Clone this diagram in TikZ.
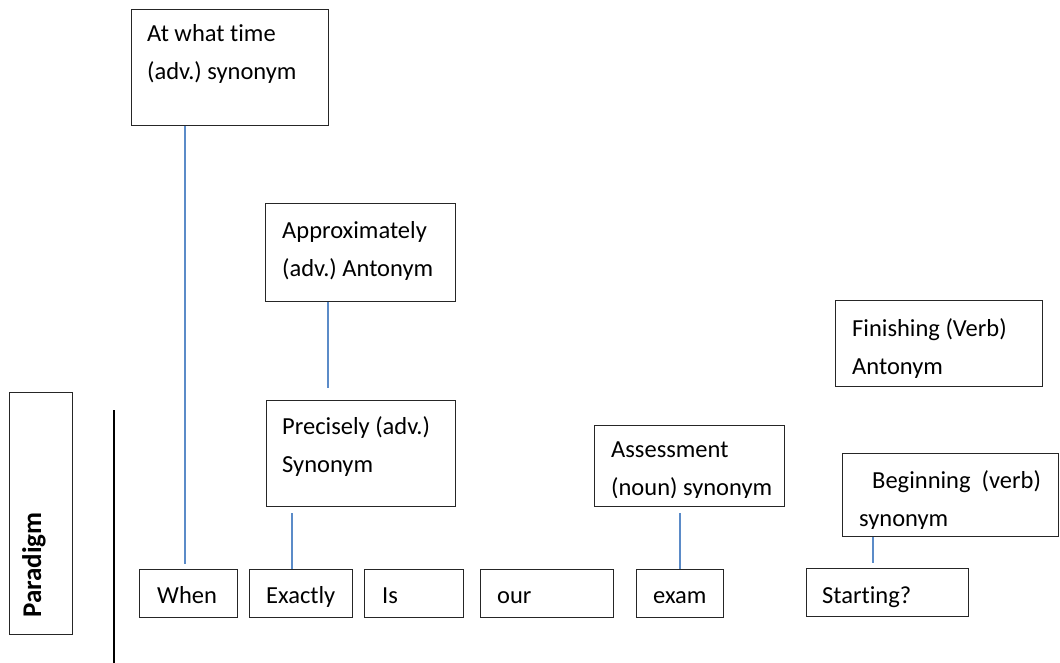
\documentclass[tikz,border=0pt]{standalone}
\usepackage{fontspec}
\setmainfont{Carlito}[Ligatures={NoCommon,NoContextual}]
\usetikzlibrary{calc}
\definecolor{linkblue}{HTML}{5B8BC8}
\begin{document}
\frenchspacing
\begin{tikzpicture}[x=1pt,y=-1pt,
  wbox/.style={draw=black!85, line width=1pt, inner sep=0pt, anchor=north west},
  txt/.style={inner sep=0pt, anchor=base west, align=left, font=\fontsize{24.5}{38}\selectfont},
  link/.style={draw=linkblue, line width=1.2pt},
  rule/.style={draw=black, line width=1.2pt}]
\useasboundingbox[fill=white] (0,0) rectangle (1060,663);

% boxes
\node[wbox, minimum width=197pt, minimum height=116pt] (ta) at (131,9) {};
\node[wbox, minimum width=190pt, minimum height=98pt] (tb) at (265,203) {};
\node[wbox, minimum width=189pt, minimum height=106pt] (tc) at (266,400) {};
\node[wbox, minimum width=207pt, minimum height=86pt] (td) at (835,300) {};
\node[wbox, minimum width=190pt, minimum height=81pt] (te) at (594,425) {};
\node[wbox, minimum width=216pt, minimum height=83pt] (tf) at (842,453) {};
\node[wbox, minimum width=98pt, minimum height=48pt] (when) at (139,569) {};
\node[wbox, minimum width=103pt, minimum height=48pt] (exactly) at (249,569) {};
\node[wbox, minimum width=99pt, minimum height=48pt] (is) at (364,569) {};
\node[wbox, minimum width=133pt, minimum height=48pt] (our) at (480,569) {};
\node[wbox, minimum width=87pt, minimum height=48pt] (exam) at (636,569) {};
\node[wbox, minimum width=162pt, minimum height=48pt] (starting) at (806,568) {};
\node[wbox, minimum width=63pt, minimum height=242pt] (para) at (9,392) {};

% texts (anchored at the baseline of the last line)
\node[txt] (ta-t) at (147,80) {At what time\\(adv.) synonym};
\node[txt] (tb-t) at (282,276) {Approximately\\(adv.) Antonym};
\node[txt] (tc-t) at (282,472) {Precisely (adv.)\\Synonym};
\node[txt] (td-t) at (852,374) {Finishing (Verb)\\Antonym};
\begin{scope}
  \clip (594,425) rectangle (784,497);
  \node[txt] (te-t) at (611,495) {Assessment\\(noun) synonym};
\end{scope}
\begin{scope}
  \clip (842,453) rectangle (1058,528);
  \node[txt] (tf-t) at (859,526) {\hspace*{13pt}Beginning\ \ (verb)\\synonym};
\end{scope}
\node[txt] (when-t) at (157,603) {When};
\node[txt] (exactly-t) at (266,603) {Exactly};
\node[txt] (is-t) at (382,603) {Is};
\node[txt] (our-t) at (497,603) {our};
\node[txt] (exam-t) at (653,603) {exam};
\node[txt] (starting-t) at (822,603) {Starting?};
\node[inner sep=0pt, rotate=90, font=\fontsize{27}{32}\selectfont\bfseries] (para-t) at (34,565) {Paradigm};

% connectors
\draw[link] ([xshift=54pt]ta.south west) -- ([xshift=46pt,yshift=5pt]when.north west);
\draw[link] ([xshift=63pt]tb.south west) -- ([xshift=62pt,yshift=12pt]tc.north west);
\draw[link] ([xshift=26pt,yshift=-6pt]tc.south west) -- ([xshift=43pt]exactly.north west);
\draw[link] ([xshift=86pt,yshift=-6pt]te.south west) -- ([xshift=44pt]exam.north west);
\draw[link] ([xshift=31pt]tf.south west) -- ([xshift=67pt,yshift=5pt]starting.north west);

% vertical rule
\coordinate (v1) at (114,410);
\coordinate (v2) at (114,663);
\draw[rule] (v1) -- (v2);
\end{tikzpicture}
\end{document}
